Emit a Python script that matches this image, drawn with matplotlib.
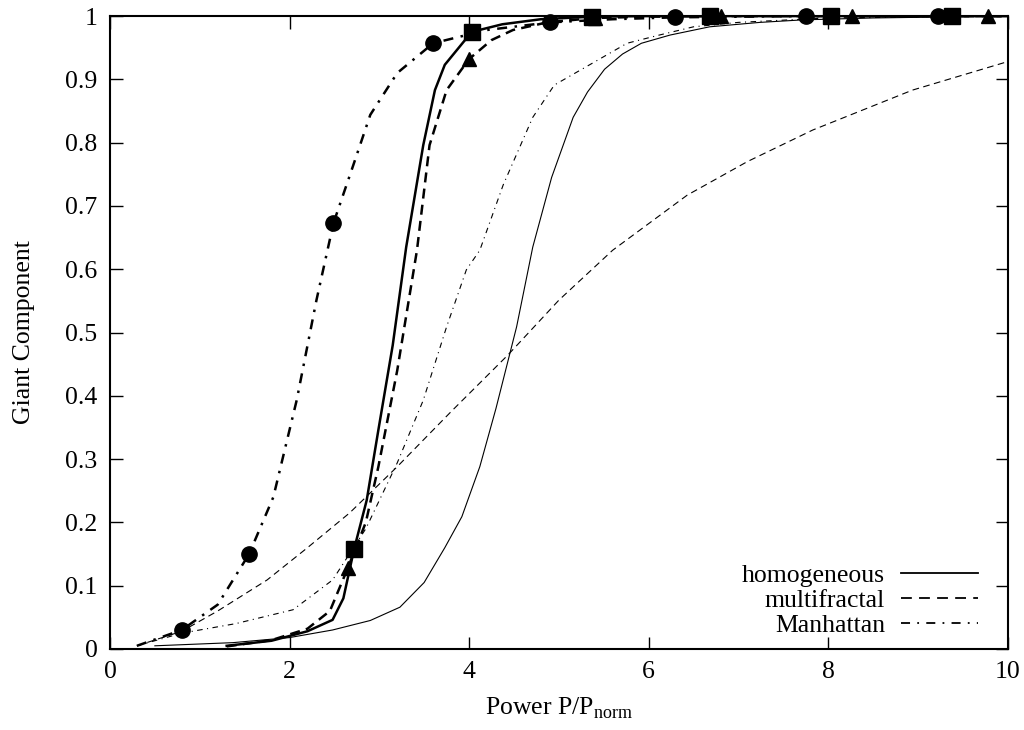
import numpy as np
import matplotlib
matplotlib.use("Agg")
import matplotlib.pyplot as plt

plt.rcParams["font.family"] = ["Liberation Serif", "DejaVu Serif"]
plt.rcParams["mathtext.fontset"] = "custom"
plt.rcParams["mathtext.rm"] = "Liberation Serif"
plt.rcParams["font.size"] = 18.5

# thin curves (no markers)
homo_thin_x = [0.5, 1.37, 2.0, 2.48, 2.9, 3.23, 3.5, 3.73, 3.92, 4.12, 4.3, 4.53, 4.71,
               4.92, 5.16, 5.32, 5.51, 5.71, 5.92, 6.24, 6.68, 7.24, 7.72, 8.5, 10.0]
homo_thin_y = [0.005, 0.01, 0.018, 0.03, 0.045, 0.066, 0.105, 0.16, 0.209, 0.288, 0.38, 0.509, 0.635,
               0.745, 0.84, 0.88, 0.916, 0.94, 0.957, 0.97, 0.983, 0.99, 0.994, 0.997, 1.0]

multi_thin_x = [0.3, 0.8, 1.2, 1.75, 2.2, 2.67, 3.2, 3.8, 4.43, 5.0, 5.6, 6.43, 7.1, 7.83, 8.94, 10.0]
multi_thin_y = [0.005, 0.028, 0.06, 0.109, 0.16, 0.215, 0.288, 0.375, 0.464, 0.551, 0.63, 0.717,
                0.77, 0.82, 0.883, 0.928]

manh_thin_x = [0.3, 0.8, 1.4, 2.04, 2.48, 2.85, 3.2, 3.49, 3.75, 3.97, 4.12, 4.38, 4.71, 4.95,
               5.38, 5.76, 6.12, 6.5, 7.0, 8.0, 10.0]
manh_thin_y = [0.005, 0.025, 0.04, 0.062, 0.109, 0.19, 0.294, 0.393, 0.509, 0.599, 0.63, 0.733, 0.84,
               0.891, 0.926, 0.957, 0.97, 0.983, 0.99, 0.997, 1.0]

# thick curves (with markers)
homo_x = [1.3, 1.8, 2.2, 2.48, 2.6, 2.72, 2.86, 2.99, 3.15, 3.3, 3.49, 3.62, 3.73, 4.03, 4.37,
          4.8, 5.37, 6.0, 6.7, 8.03, 9.37, 10.0]
homo_y = [0.005, 0.013, 0.028, 0.046, 0.08, 0.158, 0.235, 0.346, 0.48, 0.635, 0.796, 0.883, 0.923,
          0.975, 0.987, 0.995, 0.999, 1.0, 1.0, 1.0, 1.0, 1.0]
homo_mx = [2.72, 4.03, 5.37, 6.69, 8.03, 9.38]
homo_my = [0.158, 0.975, 0.999, 1.0, 1.0, 1.0]

multi_x = [1.3, 1.8, 2.2, 2.45, 2.65, 2.85, 2.99, 3.2, 3.42, 3.56, 3.75, 4.0, 4.25, 4.49, 4.87,
           5.4, 6.0, 6.81, 8.27, 9.78, 10.0]
multi_y = [0.004, 0.014, 0.032, 0.06, 0.128, 0.2, 0.288, 0.44, 0.63, 0.796, 0.883, 0.932, 0.962,
           0.978, 0.99, 0.997, 0.999, 1.0, 1.0, 1.0, 1.0]
multi_mx = [2.65, 4.0, 5.4, 6.81, 8.27, 9.78]
multi_my = [0.128, 0.932, 0.997, 1.0, 1.0, 1.0]

manh_x = [0.3, 0.8, 1.2, 1.55, 1.82, 2.08, 2.3, 2.49, 2.7, 2.9, 3.2, 3.6, 4.2, 4.9, 5.6, 6.3,
          7.75, 9.22, 10.0]
manh_y = [0.005, 0.03, 0.07, 0.15, 0.24, 0.393, 0.551, 0.673, 0.76, 0.844, 0.91, 0.957, 0.978,
          0.99, 0.995, 0.998, 1.0, 1.0, 1.0]
manh_mx = [0.8, 1.55, 2.49, 3.6, 4.9, 6.3, 7.75, 9.22]
manh_my = [0.03, 0.15, 0.673, 0.957, 0.99, 0.998, 1.0, 1.0]

labels = ["homogeneous", "multifractal", "Manhattan"]

fig = plt.figure(figsize=(10.24, 7.30), dpi=100)
ax = fig.add_axes([0.1074, 0.111, 0.8766, 0.867])

thin = 0.8
thick = 1.8
dash = (0, (6, 4))
dashdot = (0, (5, 4, 1, 4))

ax.plot(homo_thin_x, homo_thin_y, color="k", lw=thin, ls="-", label=labels[0])
ax.plot(multi_thin_x, multi_thin_y, color="k", lw=thin, ls=dash, label=labels[1])
ax.plot(manh_thin_x, manh_thin_y, color="k", lw=thin, ls=dashdot, label=labels[2])

ax.plot(homo_x, homo_y, color="k", lw=thick, ls="-")
ax.plot(multi_x, multi_y, color="k", lw=thick, ls=(0, (4, 2.5)))
ax.plot(manh_x, manh_y, color="k", lw=thick, ls=(0, (4, 3, 1, 3)))

ax.plot(homo_mx, homo_my, "s", color="k", ms=11, ls="none", clip_on=False)
ax.plot(multi_mx, multi_my, "^", color="k", ms=10, ls="none", clip_on=False)
ax.plot(manh_mx, manh_my, "o", color="k", ms=11, ls="none", clip_on=False)

ax.set_xlim(0, 10)
ax.set_ylim(0, 1)
ax.set_xticks(np.arange(0, 11, 2))
ax.set_xticklabels(["0", "2", "4", "6", "8", "10"])
yt = np.round(np.arange(0, 1.01, 0.1), 1)
ax.set_yticks(yt)
ax.set_yticklabels(["0"] + [f"{v:.1f}" for v in yt[1:-1]] + ["1"])
ax.tick_params(direction="in", length=9, width=1.0, top=True, right=True, pad=9)
for s in ax.spines.values():
    s.set_linewidth(1.5)

ax.set_xlabel("Power P/P$_{\\rm norm}$", labelpad=9)
ax.set_ylabel("Giant Component", labelpad=22)

leg = ax.legend(loc="lower right", frameon=False, markerfirst=False,
                handlelength=3.0, handletextpad=0.6, labelspacing=0.08,
                borderaxespad=0.15, bbox_to_anchor=(0.9823, -0.004))
for line in leg.get_lines():
    line.set_linewidth(1.3)

fig.savefig("out.png", dpi=100)
